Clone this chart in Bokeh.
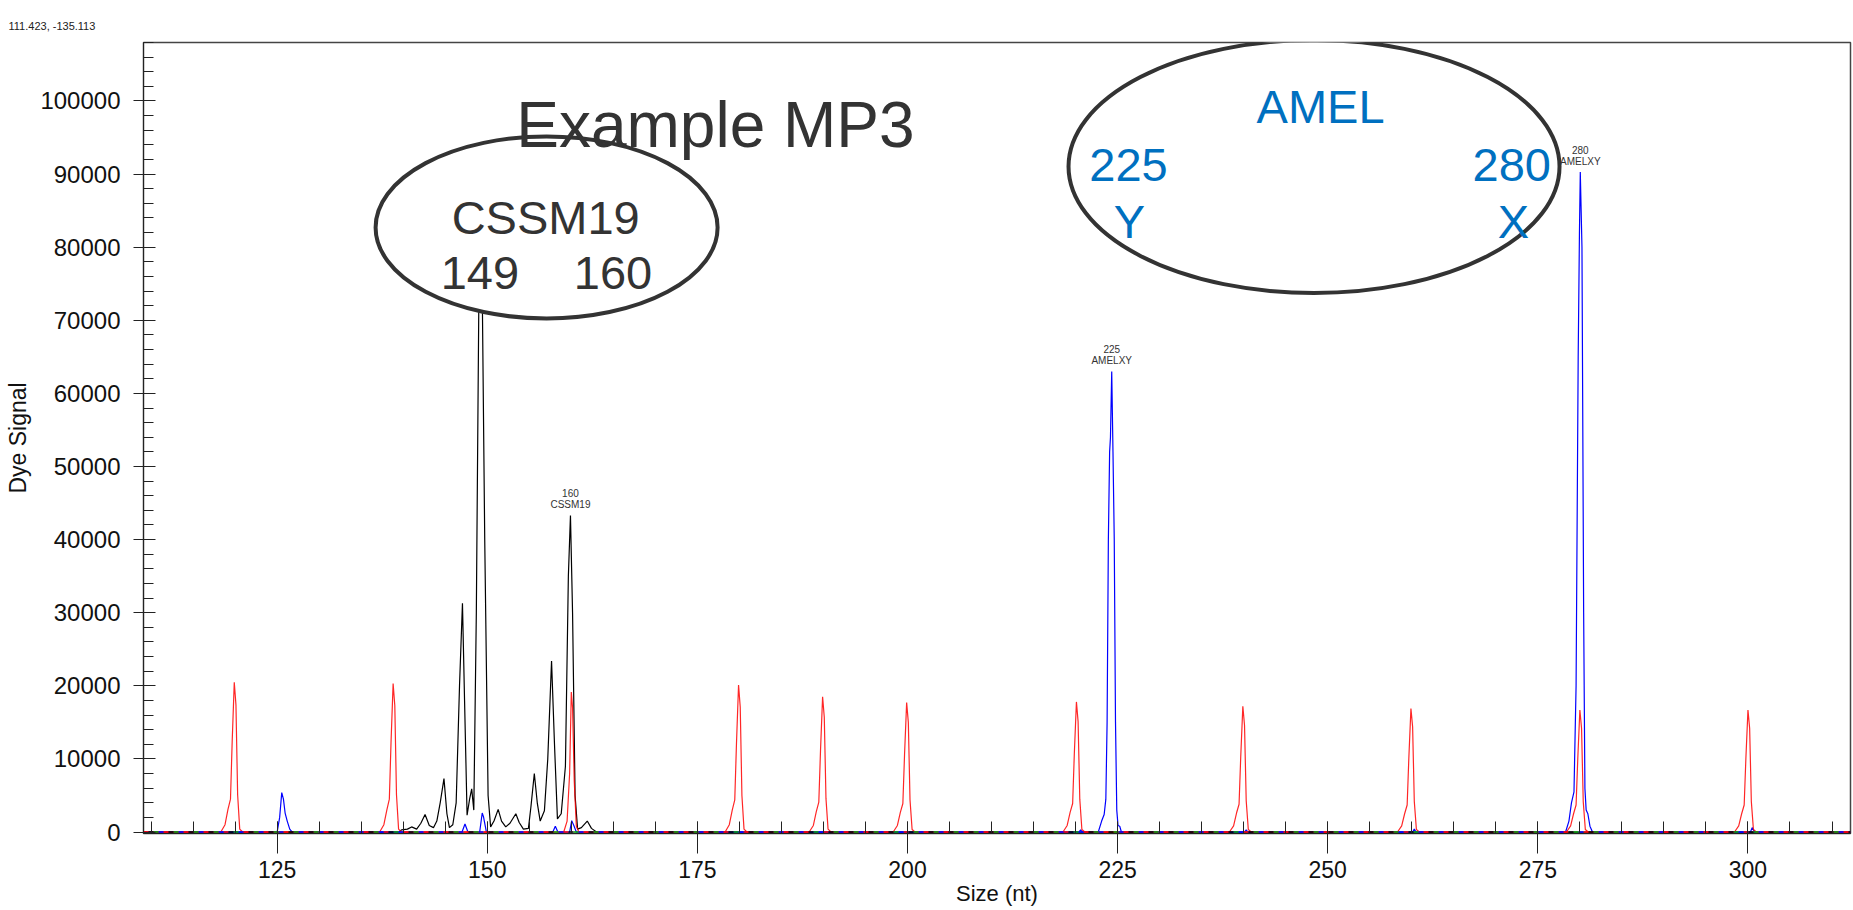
from bokeh.plotting import figure
from bokeh.models import Range1d, SingleIntervalTicker, BasicTickFormatter, ColumnDataSource, Label
from bokeh.core.properties import value
from bokeh.embed import file_html
from bokeh.resources import INLINE

# ---------------- data ----------------
x_lo, x_hi = 109.1, 312.2
y_lo, y_hi = -200, 108000

# red channel (size standard)
red_x = [109.1,
         118.3, 118.8, 119.15, 119.45, 119.65, 119.9, 120.1, 120.3, 120.55, 120.9,
         137.2, 137.7, 138.05, 138.35, 138.55, 138.8, 139.0, 139.2, 139.45, 139.8,
         159.1, 159.5, 159.8, 160.0, 160.15, 160.35, 160.6, 160.9,
         178.3, 178.8, 179.15, 179.45, 179.65, 179.9, 180.1, 180.3, 180.55, 180.9,
         188.3, 188.8, 189.15, 189.45, 189.65, 189.9, 190.1, 190.3, 190.55, 190.9,
         198.3, 198.8, 199.15, 199.45, 199.65, 199.9, 200.1, 200.3, 200.55, 200.9,
         218.5, 219.0, 219.35, 219.65, 219.85, 220.1, 220.3, 220.5, 220.75, 221.1,
         238.3, 238.8, 239.15, 239.45, 239.65, 239.9, 240.1, 240.3, 240.55, 240.9,
         258.3, 258.8, 259.15, 259.45, 259.65, 259.9, 260.1, 260.3, 260.55, 260.9,
         278.4, 278.9, 279.25, 279.55, 279.75, 280.0, 280.2, 280.4, 280.65, 281.0,
         298.4, 298.9, 299.25, 299.55, 299.75, 300.0, 300.2, 300.4, 300.65, 301.0,
         312.2]
red_y = [0,
         0, 1000, 3100, 4500, 12300, 20500, 17400, 5100, 400, 0,
         0, 1000, 3000, 4500, 12200, 20300, 17300, 5100, 400, 0,
         0, 1500, 8000, 19150, 17000, 7000, 800, 0,
         0, 1000, 3000, 4400, 12000, 20100, 17100, 5000, 400, 0,
         0, 900, 2800, 4100, 11100, 18500, 15700, 4600, 400, 0,
         0, 900, 2700, 3900, 10600, 17700, 15000, 4400, 350, 0,
         0, 900, 2700, 3900, 10700, 17800, 15100, 4500, 350, 0,
         0, 850, 2600, 3800, 10300, 17200, 14600, 4300, 350, 0,
         0, 850, 2500, 3700, 10100, 16900, 14400, 4200, 350, 0,
         0, 850, 2500, 3700, 10000, 16700, 14200, 4200, 350, 0,
         0, 850, 2500, 3700, 10000, 16700, 14200, 4200, 350, 0,
         0]

# blue channel (AMEL)
blue_x = [109.1,
          125.0, 125.3, 125.55, 125.75, 125.95, 126.2, 126.5, 126.8,
          147.0, 147.35, 147.7,
          149.1, 149.4, 149.55, 149.9,
          157.8, 158.1, 158.4,
          159.8, 160.05, 160.3, 160.6,
          220.4, 220.6, 220.8,
          222.7, 223.1, 223.4, 223.6, 223.75, 223.9, 224.05, 224.15, 224.3, 224.45, 224.6, 224.75, 224.9, 225.05, 225.25, 225.45,
          240.1, 240.3, 240.5,
          260.1, 260.3, 260.5,
          278.3, 278.7, 279.0, 279.3, 279.55, 279.8, 279.95, 280.05, 280.25, 280.45, 280.6, 280.75, 280.95, 281.2, 281.5,
          300.3, 300.5, 300.8,
          312.2]
blue_y = [0,
          0, 2000, 5400, 4500, 2600, 1500, 400, 0,
          0, 1100, 0,
          0, 2600, 2100, 0,
          0, 800, 0,
          0, 1550, 900, 0,
          0, 300, 0,
          0, 1500, 2400, 4500, 15000, 40000, 52000, 54000, 63000, 52000, 40000, 15000, 3000, 900, 800, 0,
          0, 300, 0,
          0, 400, 0,
          0, 1500, 4000, 5500, 20000, 65000, 82000, 90300, 80000, 30000, 6000, 3000, 2500, 800, 0,
          0, 600, 0,
          0]

# black channel (CSSM19)
black_x = [109.1, 139.5, 139.8, 140.5, 141.0, 141.6, 142.1, 142.6, 143.1, 143.6, 144.0, 144.4, 144.85,
           145.2, 145.5, 145.9, 146.3, 146.7, 147.05, 147.3, 147.6, 147.9, 148.15, 148.4, 148.7,
           149.05, 149.3, 149.7, 150.1, 150.4, 150.8, 151.3, 151.7, 152.2, 152.7, 153.4, 153.8,
           154.3, 154.9, 155.2, 155.6, 155.95, 156.3, 156.8, 157.2, 157.65, 158.0, 158.35, 158.8,
           159.3, 159.65, 159.9, 160.15, 160.45, 160.75, 161.2, 161.9, 162.4, 163.0, 312.2]
black_y = [0, 0, 300, 400, 700, 400, 1200, 2400, 900, 600, 1500, 4000, 7300,
           2500, 600, 1000, 4000, 20000, 31300, 18000, 2300, 4500, 5900, 3000, 30000,
           80000, 86000, 40000, 5000, 700, 1500, 3100, 1500, 700, 1200, 2500, 1300,
           400, 500, 3500, 8000, 4000, 1500, 2900, 10000, 23400, 12000, 1800, 2500,
           9000, 35000, 43300, 30000, 5000, 400, 600, 1500, 500, 0, 0]

# called-peak labels
label_x = [159.9, 224.3, 280.05]
label_y = [43300, 63000, 90300]
label_size = ["160", "225", "280"]
label_marker = ["CSSM19", "AMELXY", "AMELXY"]

FONT = "Liberation Sans"

p = figure(width=1853, height=910, output_backend="svg", toolbar_location=None,
           x_range=Range1d(x_lo, x_hi), y_range=Range1d(y_lo, y_hi),
           min_border_left=143, min_border_top=42, min_border_right=3, min_border_bottom=77)
p.xgrid.visible = False
p.ygrid.visible = False
p.outline_line_color = "#444444"
p.outline_line_width = 1.5
p.background_fill_color = "white"
p.border_fill_color = "white"

# cursor read-out in the top-left corner
p.title.text = "111.423, -135.113"
p.title.text_font = FONT
p.title.text_font_size = "11px"
p.title.text_font_style = "normal"
p.title.text_color = "#222222"
p.title.align = "left"
p.title.offset = -135
p.title.standoff = 22

# axes
p.xaxis.ticker = SingleIntervalTicker(interval=25, num_minor_ticks=5)
p.yaxis.ticker = SingleIntervalTicker(interval=10000, num_minor_ticks=5)
p.yaxis.formatter = BasicTickFormatter(use_scientific=False)
for ax in (p.xaxis[0], p.yaxis[0]):
    ax.axis_line_color = "#222222"
    ax.major_tick_line_color = "#222222"
    ax.minor_tick_line_color = "#222222"
    ax.major_label_text_font = FONT
    ax.major_label_text_color = "#111111"
    ax.axis_label_text_font = FONT
    ax.axis_label_text_font_style = "normal"
    ax.axis_label_text_color = "#111111"
p.xaxis.major_tick_in = 12
p.xaxis.major_tick_out = 20
p.xaxis.minor_tick_in = 12
p.xaxis.minor_tick_out = 0
p.xaxis.major_label_standoff = 7
p.xaxis.major_label_text_font_size = "23px"
p.xaxis.axis_label = "Size (nt)"
p.xaxis.axis_label_standoff = 0
p.xaxis.axis_label_text_font_size = "22px"

p.yaxis.major_tick_in = 12
p.yaxis.major_tick_out = 10
p.yaxis.minor_tick_in = 10
p.yaxis.minor_tick_out = 0
p.yaxis.major_label_standoff = 13
p.yaxis.major_label_text_font_size = "24px"
p.yaxis.axis_label = "Dye Signal"
p.yaxis.axis_label_standoff = 6
p.yaxis.axis_label_text_font_size = "23px"

# traces
p.line(black_x, black_y, line_color="#000000", line_width=1.2)
p.line(blue_x, blue_y, line_color="#0000ff", line_width=1.2)
p.line(red_x, red_y, line_color="#ff0000", line_width=1.2, line_alpha=0.85)

# multi-coloured baseline noise
for i, c in enumerate(["#ff0000", "#0000ff", "#00a000", "#000000"]):
    p.line([x_lo, x_hi], [0, 0], line_color=c, line_width=1.5,
           line_dash="5 15", line_dash_offset=5 * i)

# peak labels
src = ColumnDataSource(dict(x=label_x, y=label_y, size=label_size, marker=label_marker))
p.text(x="x", y="y", text="marker", source=src, y_offset=-5, text_align="center",
       text_baseline="bottom", text_font=value(FONT), text_font_size="10px", text_color="#333333")
p.text(x="x", y="y", text="size", source=src, y_offset=-18, text_align="center",
       text_baseline="bottom", text_font=value(FONT), text_font_size="10px", text_color="#333333")

# annotation ellipses (white fill, on top of traces)
p.ellipse(x=[157.06], y=[82700], width=342, height=182, width_units="screen", height_units="screen",
          fill_color="white", line_color="#333333", line_width=4)
p.ellipse(x=[248.37], y=[91040], width=491, height=253, width_units="screen", height_units="screen",
          fill_color="white", line_color="#333333", line_width=4)

def lab(x, y, text, size, color):
    p.add_layout(Label(x=x, y=y, text=text, text_align="center", text_baseline="alphabetic",
                       text_font=FONT, text_font_size=size, text_color=color))

lab(177.15, 96650, "Example MP3", "64px", "#333333")
lab(156.95, 84105, "CSSM19", "47px", "#333333")
lab(149.13, 76404, "149", "47px", "#333333")
lab(164.96, 76404, "160", "47px", "#333333")
BLUE = "#0070c0"
lab(249.15, 99246, "AMEL", "47px", BLUE)
lab(226.3, 91176, "225", "47px", BLUE)
lab(271.9, 91176, "280", "47px", BLUE)
lab(226.4, 83517, "Y", "47px", BLUE)
lab(272.1, 83517, "X", "47px", BLUE)

open("out.html", "w").write(file_html(p, INLINE))
